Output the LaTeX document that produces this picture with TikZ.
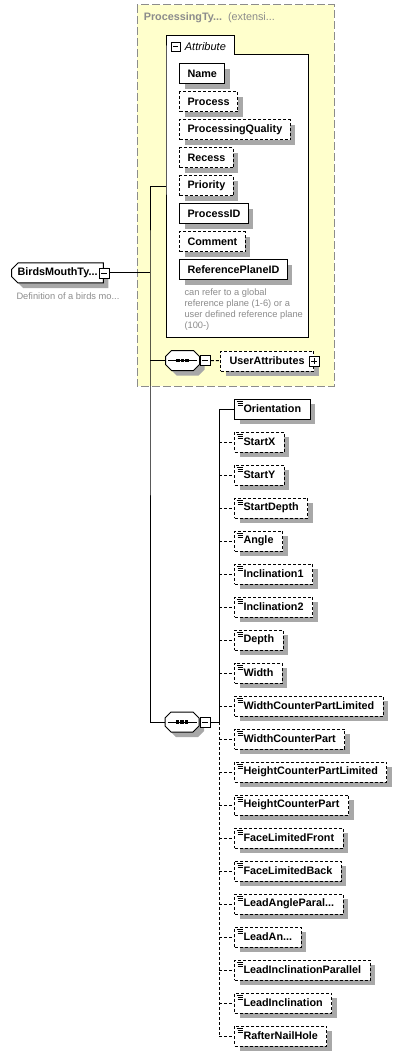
\documentclass[tikz,border=0pt]{standalone}
\usepackage{fontspec}
\setmainfont{Liberation Sans}
\usetikzlibrary{positioning,shapes.misc}
\definecolor{groupfill}{HTML}{FFFFCC}
\definecolor{groupline}{HTML}{8C8C8C}
\definecolor{notegray}{HTML}{8C8C8C}
\definecolor{shadowgray}{HTML}{A8A8A8}
\newcommand\boxfont{\fontsize{10.8}{12}\selectfont\bfseries}
\newcommand\notefont{\fontsize{9.3}{11}\selectfont}
\newcommand\cutoff{...}

\begin{document}
\begin{tikzpicture}[x=1pt,y=-1pt,line width=1pt,
  itembox/.style={draw,fill=white,font=\boxfont,anchor=west,minimum height=20pt,inner ysep=0pt},
  shadowbox/.style={draw=none,fill=shadowgray},
  attrbox/.style={itembox,inner xsep=8pt},
  elembox/.style={itembox,inner xsep=9pt,
    path picture={\draw[solid,line width=0.7pt]
      ([shift={(2pt,-2pt)}]path picture bounding box.north west) -- ++(6pt,0pt)
      ([shift={(3pt,-4pt)}]path picture bounding box.north west) -- ++(5pt,0pt)
      ([shift={(3pt,-6pt)}]path picture bounding box.north west) -- ++(5pt,0pt);}},
  required/.style={solid},
  optional/.style={dash pattern=on 3pt off 2pt},
  optline/.style={dash pattern=on 3pt off 2pt},
  collapse/.style={draw,solid,fill=white,minimum size=10pt,inner sep=0pt,line width=0.8pt,
    path picture={\draw ([xshift=2pt]path picture bounding box.west) -- ([xshift=-2pt]path picture bounding box.east);}},
  expand/.style={draw,solid,fill=white,minimum size=10pt,inner sep=0pt,line width=0.8pt,
    path picture={\draw ([xshift=2pt]path picture bounding box.west) -- ([xshift=-2pt]path picture bounding box.east)
      ([yshift=2pt]path picture bounding box.south) -- ([yshift=-2pt]path picture bounding box.north);}},
  compositor/.style={minimum width=34pt,minimum height=20pt,inner sep=0pt}]
\useasboundingbox (0,0) rectangle (416,1056);

% extension group
\draw[dash pattern=on 8pt off 3pt,draw=groupline,fill=groupfill] (137,5) rectangle (334,386);
\node[anchor=west,text=notegray,font=\boxfont] (grouptitle) at (140,18) {ProcessingTy\cutoff\hspace{6pt}\mdseries(extensi\cutoff};

% attribute container
\draw[fill=white] (166,55) -- (166,36) -- (234,36) -- (234,55) -- (308,55) -- (308,337) -- (166,337) -- cycle;
\node[collapse,minimum size=9pt] (attrminus) at (175.5,46.5) {};
\node[right=4pt of attrminus,inner sep=0pt,font=\fontsize{11}{12}\selectfont\itshape] (attrlabel) {Attribute};

\foreach \i/\name/\txt/\kind in {0/aname/Name/required, 1/aprocess/Process/optional,
    2/aquality/ProcessingQuality/optional, 3/arecess/Recess/optional, 4/apriority/Priority/optional,
    5/aprocessid/ProcessID/required, 6/acomment/Comment/optional, 7/arefplane/ReferencePlaneID/required} {
  \node[attrbox,shadowbox] (\name-sh) at (184,{79+28*\i}) {\phantom{\txt}};
  \node[attrbox,\kind] (\name) at (179,{74+28*\i}) {\txt};
}
\node[anchor=north west,align=left,font=\notefont,text=notegray,inner sep=0pt] (refnote) at (184,288)
  {can refer to a global\\reference plane (1-6) or a\\user defined reference plane\\(100-)};

% root element
\node[itembox,shadowbox,chamfered rectangle,chamfered rectangle corners={north west,south west},
  chamfered rectangle xsep=3pt,inner xsep=3pt] (root-sh) at (16,278) {\phantom{BirdsMouthTy\cutoff}\hspace{12pt}};
\node[itembox,chamfered rectangle,chamfered rectangle corners={north west,south west},
  chamfered rectangle xsep=3pt,inner xsep=3pt] (root) at (11,273) {BirdsMouthTy\cutoff\hspace{12pt}};
\node[collapse] (rootminus) at (root.east) {};
\node[anchor=west,font=\notefont,text=notegray,inner sep=0pt] (rootnote) at (16,296) {Definition of a birds mo\cutoff};

\coordinate (attrjoin) at (166,187);
\coordinate (spine) at (150,273);

% sequences
\node[compositor] (seqa) at (182.5,360.5) {};
\node[compositor] (seqb) at (182,722) {};
\foreach \s in {seqa,seqb} {
  \fill[shadowgray] ([shift={(5pt,-5pt)}]\s.center) ++(-11pt,-10pt) -- ++(22pt,0pt) -- ++(6pt,6pt) -- ++(0pt,8pt)
    -- ++(-6pt,6pt) -- ++(-22pt,0pt) -- ++(-6pt,-6pt) -- ++(0pt,-8pt) -- cycle;
  \draw[fill=white] (\s.center) ++(-11pt,-10pt) -- ++(22pt,0pt) -- ++(6pt,6pt) -- ++(0pt,8pt)
    -- ++(-6pt,6pt) -- ++(-22pt,0pt) -- ++(-6pt,-6pt) -- ++(0pt,-8pt) -- cycle;
  \draw ([xshift=3pt]\s.west) -- ([xshift=-3pt]\s.east);
  \foreach \d in {-4.5,0,4.5} \fill ([xshift=\d pt]\s.center) +(-1.7pt,-1.7pt) rectangle +(1.7pt,1.7pt);
}
\node[collapse,right=0pt of seqa] (seqaminus) {};
\node[collapse,right=0pt of seqb] (seqbminus) {};
\node[attrbox,shadowbox,inner xsep=9pt] (userattr-sh) at (225,366) {\phantom{UserAttributes}\hspace{4pt}};
\node[attrbox,optional,inner xsep=9pt] (userattr) at (220,361) {UserAttributes\hspace{4pt}};
\node[expand] (userplus) at (userattr.east) {};
\coordinate (fan) at (219,722);

\foreach \i/\name/\txt/\kind in {0/orientation/Orientation/required, 1/startx/StartX/optional,
    2/starty/StartY/optional, 3/startdepth/StartDepth/optional, 4/angle/Angle/optional,
    5/incla/Inclination1/optional, 6/inclb/Inclination2/optional, 7/depth/Depth/optional,
    8/width/Width/optional, 9/wcplimited/WidthCounterPartLimited/optional,
    10/wcp/WidthCounterPart/optional, 11/hcplimited/HeightCounterPartLimited/optional,
    12/hcp/HeightCounterPart/optional, 13/facefront/FaceLimitedFront/optional,
    14/faceback/FaceLimitedBack/optional, 15/leadangpar/LeadAngleParal\cutoff/optional,
    16/leadang/LeadAn\cutoff/optional, 17/leadinclpar/LeadInclinationParallel/optional,
    18/leadincl/LeadInclination/optional, 19/rafter/RafterNailHole/optional} {
  \node[itembox,inner xsep=9pt,shadowbox] (\name-sh) at (239,{414+33*\i}) {\phantom{\txt}};
  \node[elembox,\kind] (\name) at (234,{409+33*\i}) {\txt};
}

% connectors
\draw (rootminus) -- (spine);
\draw (attrjoin) -| (spine) |- (seqb);
\draw (spine |- seqa) -- (seqa);
\draw[optline] (seqaminus) -- (userattr);
\draw (seqbminus) -- (fan) |- (orientation);
\draw[optline] (fan) -- (fan |- rafter);
\foreach \n in {startx,starty,startdepth,angle,incla,inclb,depth,width,wcplimited,
    wcp,hcplimited,hcp,facefront,faceback,leadangpar,leadang,leadinclpar,leadincl,rafter} {
  \draw[optline] (fan |- \n) -- (\n);
}
\end{tikzpicture}
\end{document}
